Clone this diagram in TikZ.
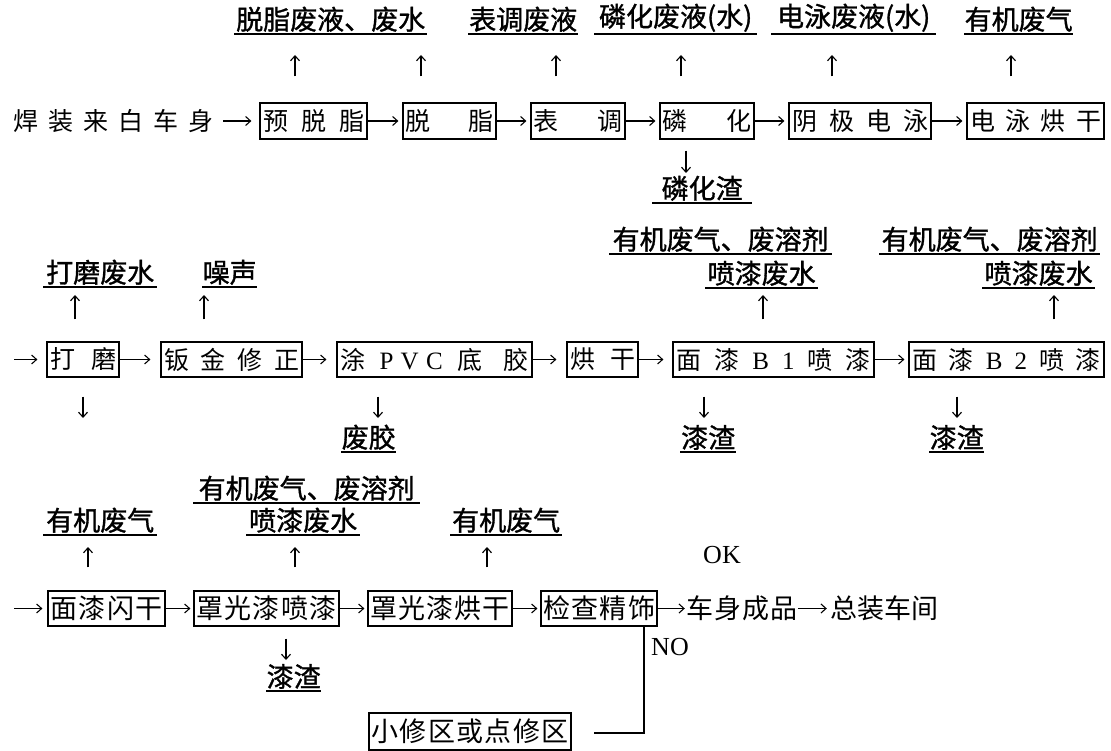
\documentclass[tikz,border=0pt]{standalone}
\usepackage{fontspec}
\setmainfont{Liberation Serif}
\newfontfamily\cjk{Noto Sans CJK SC}
\newfontfamily\cjkb{Noto Sans CJK SC}[FakeBold=1.2]
\usetikzlibrary{arrows.meta}
\newcommand{\spr}[2]{\makebox[#1]{#2}}
\newcommand{\lat}[1]{{\rmfamily\fontsize{25}{25}\selectfont #1}}
\begin{document}
\begin{tikzpicture}[x=1pt,y=-1pt,
  box/.style={draw, line width=1.2pt, inner sep=0pt, minimum height=36pt, font=\cjk\fontsize{25}{25}\selectfont},
  box3/.style={box, minimum height=35pt, font=\cjk\fontsize{27}{27}\selectfont},
  txt/.style={inner sep=0pt, font=\cjk\fontsize{25}{25}\selectfont},
  txt3/.style={inner sep=0pt, font=\cjk\fontsize{27}{27}\selectfont},
  lab/.style={inner xsep=0pt, inner ysep=3pt, anchor=south west, font=\cjkb\fontsize{27}{27}\selectfont,
    path picture={\draw[line width=3pt] (path picture bounding box.south west) -- (path picture bounding box.south east);}},
  lat/.style={inner sep=0pt, font=\rmfamily\fontsize{26}{26}\selectfont},
  arr/.style={line width=1.1pt, -{Straight Barb[length=5pt,width=9pt]}},
  hx/.style={arr, shorten >=4pt}
]
\useasboundingbox (0,0) rectangle (1111,751);

% ---------- Row 1 ----------
\node[txt] (start) at (113,121) {\spr{200pt}{焊\hfill 装\hfill 来\hfill 白\hfill 车\hfill 身}};
\node[box, minimum width=107pt] (pre) at (313.5,121) {\spr{101pt}{预\hfill 脱\hfill 脂}};
\node[box, minimum width=93pt] (deg) at (449.5,121) {\spr{88pt}{脱\hfill 脂}};
\node[box, minimum width=94pt] (sur) at (578,121) {\spr{89pt}{表\hfill 调}};
\node[box, minimum width=94pt] (pho) at (707,121) {\spr{89pt}{磷\hfill 化}};
\node[box, minimum width=142pt] (ed) at (860,121) {\spr{136pt}{阴\hfill 极\hfill 电\hfill 泳}};
\node[box, minimum width=137pt] (edb) at (1035.5,121) {\spr{131pt}{电\hfill 泳\hfill 烘\hfill 干}};

\node[lab, minimum width=193pt] (l1) at (234,35) {脱脂废液、废水};
\node[lab, minimum width=110pt] (l2) at (468,35) {表调废液};
\node[lab, minimum width=163pt] (l3) at (594,35) {磷化废液(水)};
\node[lab, minimum width=165pt] (l4) at (771,35) {电泳废液(水)};
\node[lab, minimum width=109pt] (l5) at (964,35) {有机废气};
\node[lab, minimum width=100pt] (l6) at (652,204) {磷化渣};

\draw[arr, shorten <=10pt, shorten >=8pt] (start) -- (pre);
\draw[hx] (pre) -- (deg);
\draw[hx] (deg) -- (sur);
\draw[hx] (sur) -- (pho);
\draw[hx] (pho) -- (ed);
\draw[hx] (ed) -- (edb);

\coordinate (u1) at (295,55);
\coordinate (u2) at (421,55);
\coordinate (u3) at (556,55);
\coordinate (u4) at (681,55);
\coordinate (u5) at (832,55);
\coordinate (u6) at (1011,55);
\draw[arr, shorten <=26pt] (pre.north -| u1) -- (u1);
\draw[arr, shorten <=26pt] (deg.north -| u2) -- (u2);
\draw[arr, shorten <=26pt] (sur.north -| u3) -- (u3);
\draw[arr, shorten <=26pt] (pho.north -| u4) -- (u4);
\draw[arr, shorten <=26pt] (ed.north -| u5) -- (u5);
\draw[arr, shorten <=26pt] (edb.north -| u6) -- (u6);
\coordinate (d1) at (686,173);
\draw[arr, shorten <=11pt] (pho.south -| d1) -- (d1);

% ---------- Row 2 ----------
\coordinate (r2s) at (14,359.5);
\node[box, minimum height=35pt, minimum width=72pt] (grind) at (83,359.5) {\spr{66pt}{打\hfill 磨}};
\node[box, minimum height=35pt, minimum width=141pt] (sheet) at (231.5,359.5) {\spr{135pt}{钣\hfill 金\hfill 修\hfill 正}};
\node[box, minimum height=35pt, minimum width=195pt] (pvc) at (434.5,359.5) {\spr{189pt}{涂\hfill\hfill\lat{P}\hfill\lat{V}\hfill\lat{C}\hfill\hfill 底\hfill\hfill\hfill 胶}};
\node[box, minimum height=35pt, minimum width=71pt] (bake) at (602.5,359.5) {\spr{65pt}{烘\hfill 干}};
\node[box, minimum height=35pt, minimum width=201pt] (b1) at (773.5,359.5) {\spr{195pt}{面\hfill 漆\hfill\lat{B}\hfill\lat{1}\hfill 喷\hfill 漆}};
\node[box, minimum height=35pt, minimum width=195pt] (b2) at (1006.5,359.5) {\spr{189pt}{面\hfill 漆\hfill\lat{B}\hfill\lat{2}\hfill 喷\hfill 漆}};

\node[lab, minimum width=114pt] (l7) at (43,288) {打磨废水};
\node[lab, minimum width=55pt] (l8) at (202,288) {噪声};
\node[lab, minimum width=223pt] (l9) at (609,255) {有机废气、废溶剂};
\node[lab, minimum width=113pt] (l10) at (705,289) {喷漆废水};
\node[lab, minimum width=221pt] (l11) at (879,255) {有机废气、废溶剂};
\node[lab, minimum width=113pt] (l12) at (982,289) {喷漆废水};
\node[lab, minimum width=55pt] (l13) at (341,453) {废胶};
\node[lab, minimum width=56pt] (l14) at (680,453) {漆渣};
\node[lab, minimum width=55pt] (l15) at (929,453) {漆渣};

\draw[arr, shorten >=9pt] (r2s) -- (grind);
\draw[arr, shorten >=10pt] (grind) -- (sheet);
\draw[arr, shorten >=10pt] (sheet) -- (pvc);
\draw[arr, shorten >=10pt] (pvc) -- (bake);
\draw[arr, shorten >=9pt] (bake) -- (b1);
\draw[hx] (b1) -- (b2);

\coordinate (u7) at (75,295);
\coordinate (u8) at (204,295);
\coordinate (u9) at (763,295);
\coordinate (u10) at (1054,295);
\draw[arr, shorten <=22pt] (grind.north -| u7) -- (u7);
\draw[arr, shorten <=22pt] (sheet.north -| u8) -- (u8);
\draw[arr, shorten <=22pt] (b1.north -| u9) -- (u9);
\draw[arr, shorten <=22pt] (b2.north -| u10) -- (u10);
\coordinate (d2) at (83,418);
\coordinate (d3) at (378,418);
\coordinate (d4) at (704,418);
\coordinate (d5) at (957,418);
\draw[arr, shorten <=19pt] (grind.south -| d2) -- (d2);
\draw[arr, shorten <=19pt] (pvc.south -| d3) -- (d3);
\draw[arr, shorten <=19pt] (b1.south -| d4) -- (d4);
\draw[arr, shorten <=19pt] (b2.south -| d5) -- (d5);

% ---------- Row 3 ----------
\coordinate (r3s) at (14,608.5);
\node[box3, minimum width=117pt] (flash) at (106.5,608.5) {\spr{113pt}{面\hfill 漆\hfill 闪\hfill 干}};
\node[box3, minimum width=145pt] (clear) at (266.5,608.5) {\spr{141pt}{罩\hfill 光\hfill 漆\hfill 喷\hfill 漆}};
\node[box3, minimum width=144pt] (cbake) at (440,608.5) {\spr{140pt}{罩\hfill 光\hfill 漆\hfill 烘\hfill 干}};
\node[box3, minimum width=116pt] (insp) at (599,608.5) {\spr{112pt}{检\hfill 查\hfill 精\hfill 饰}};
\node[txt3] (prod) at (741.5,608.5) {\spr{111pt}{车\hfill 身\hfill 成\hfill 品}};
\node[txt3] (final) at (884,608.5) {\spr{108pt}{总\hfill 装\hfill 车\hfill 间}};
\node[box3, minimum height=37pt, minimum width=202pt] (repair) at (470,731.5) {\spr{198pt}{小\hfill 修\hfill 区\hfill 或\hfill 点\hfill 修\hfill 区}};

\node[lab, minimum width=114pt] (l16) at (43,536) {有机废气};
\node[lab, minimum width=227pt] (l17) at (193,504) {有机废气、废溶剂};
\node[lab, minimum width=114pt] (l18) at (246,536) {喷漆废水};
\node[lab, minimum width=112pt] (l19) at (450,536) {有机废气};
\node[lab, minimum width=55pt] (l20) at (266,692) {漆渣};

\node[lat] (ok) at (722,555) {OK};
\node[lat] (no) at (670,647) {NO};

\draw[arr, shorten >=5pt] (r3s) -- (flash);
\draw[arr, shorten >=3pt] (flash) -- (clear);
\draw[arr, shorten >=3pt] (clear) -- (cbake);
\draw[arr, shorten >=3pt] (cbake) -- (insp);
\draw[arr, shorten >=1pt] (insp) -- (prod);
\draw[arr, shorten <=1pt, shorten >=3pt] (prod) -- (final);

\coordinate (u11) at (88,547);
\coordinate (u12) at (295,547);
\coordinate (u13) at (487,547);
\draw[arr, shorten <=23pt] (flash.north -| u11) -- (u11);
\draw[arr, shorten <=23pt] (clear.north -| u12) -- (u12);
\draw[arr, shorten <=23pt] (cbake.north -| u13) -- (u13);
\coordinate (d6) at (286,660);
\draw[arr, shorten <=12pt] (clear.south -| d6) -- (d6);

\coordinate (nocorner) at (644,733);
\draw[line width=1.3pt] (insp.south -| nocorner) -- (nocorner) -- ([xshift=22pt]repair.east |- nocorner);
\end{tikzpicture}
\end{document}
